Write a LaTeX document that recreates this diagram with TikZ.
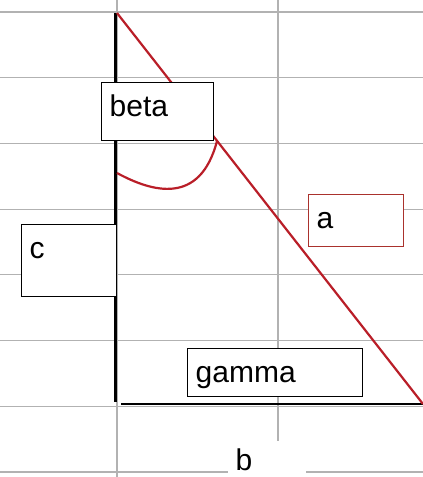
\documentclass[tikz,border=0pt]{standalone}
\usepackage{fontspec}
\setmainfont{Liberation Sans}
\definecolor{linered}{RGB}{185,30,40}
\definecolor{boxred}{RGB}{170,50,45}
\tikzset{
  gridline/.style={gray!60, line width=0.6pt},
  txtbox/.style={draw, fill=white, anchor=north west, align=left,
    inner xsep=4pt, inner ysep=0pt, text height=17pt, line width=0.7pt,
    font=\fontsize{15}{18}\selectfont},
}
\begin{document}
\begin{tikzpicture}[x=0.5pt, y=-0.5pt]
    \useasboundingbox (0,0) rectangle (423,477);

    % spreadsheet grid
    \foreach \i in {0,...,7} {
        \draw[gridline] (0,12+65.7*\i) -- (423,12+65.7*\i);
    }
    \foreach \x in {117,278} {
        \draw[gridline] (\x,0) -- (\x,477);
    }

    % triangle corners
    \coordinate (top) at (115,13);
    \coordinate (corner) at (115,402);
    \coordinate (bstart) at (121,404);
    \coordinate (right) at (423,404);

    % legs
    \draw[line width=1.5pt] (top) -- (corner);
    \draw[line width=1pt] (bstart) -- (right);

    % hypotenuse
    \draw[linered, line width=1.1pt] (117,13) -- (right);

    % angle arc
    \coordinate (arcstart) at (117,173);
    \coordinate (arcend) at (217,141);
    \draw[linered, line width=1.1pt] (arcstart) .. controls (152,192) and (200,206) .. (arcend);

    % labels
    \node[txtbox, text width=48pt, text depth=12pt] (beta) at (101,82) {beta};
    \node[txtbox, text width=39.5pt, text depth=19pt] (cbox) at (21,224) {c};
    \node[txtbox, draw=boxred, text width=39.5pt, text depth=9pt] (abox) at (308,194) {a};
    \node[txtbox, text width=79.5pt, text depth=7pt] (gammabox) at (187,348) {gamma};
    \node[txtbox, draw=none, text width=31pt, text height=15pt, text depth=5pt] (blabel) at (227,440) {b};
\end{tikzpicture}
\end{document}
